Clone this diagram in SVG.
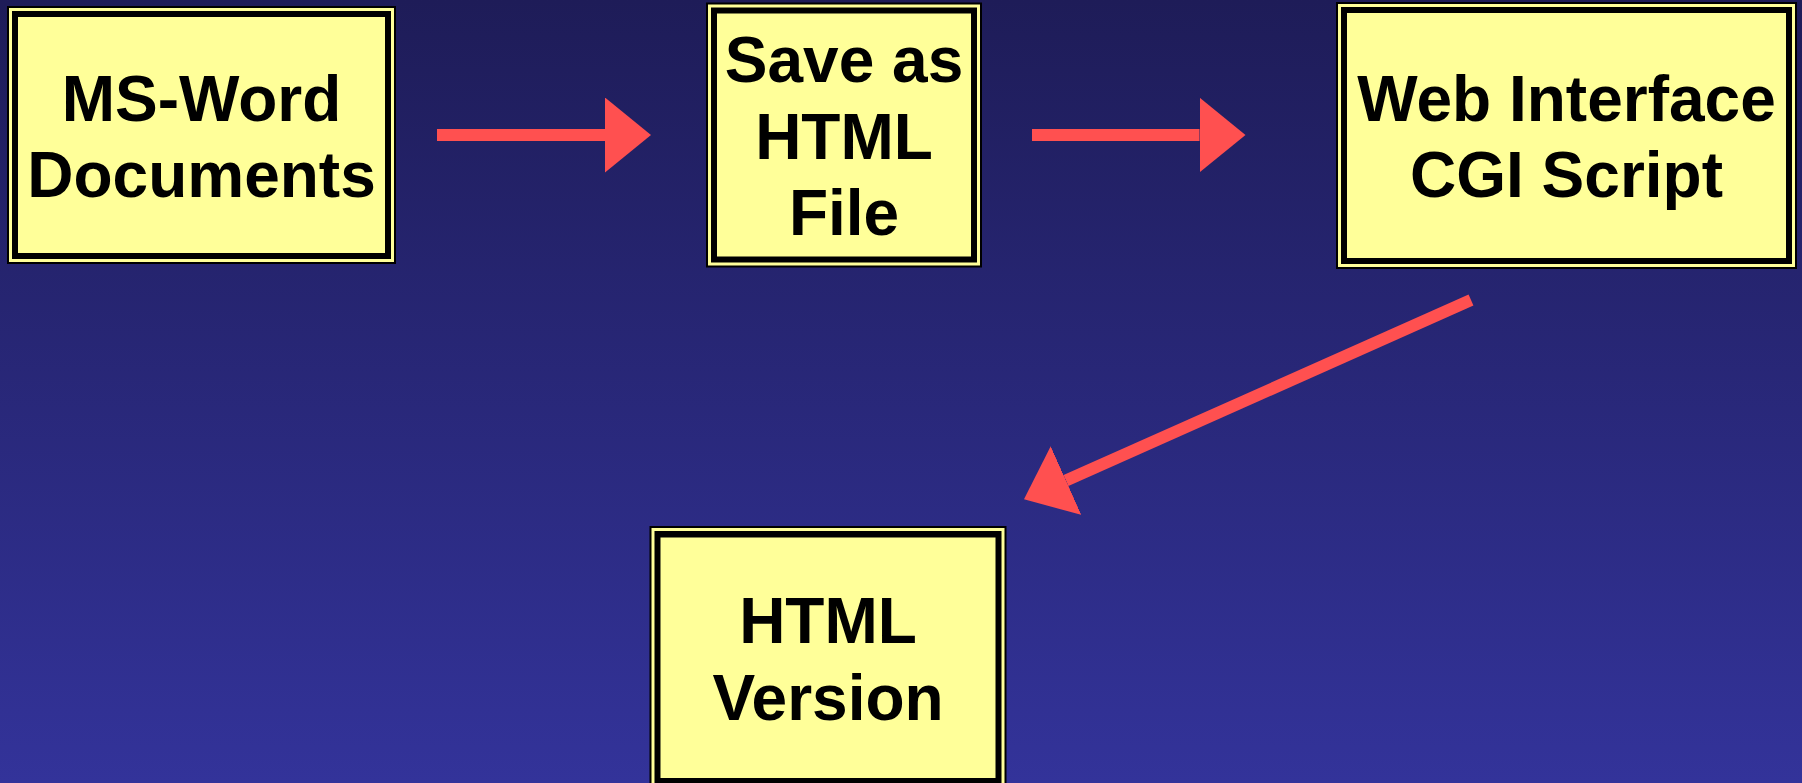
<svg xmlns="http://www.w3.org/2000/svg" width="1802" height="783" viewBox="0 0 1802 783">
  <defs>
    <linearGradient id="bg" x1="0" y1="0" x2="0" y2="1">
      <stop offset="0" stop-color="#1E1C58"/>
      <stop offset="1" stop-color="#33339A"/>
    </linearGradient>
    <marker id="head" viewBox="0 0 46 75" refX="0" refY="37.5" markerWidth="46" markerHeight="75" markerUnits="userSpaceOnUse" orient="auto">
      <path d="M0,0 L46,37.5 L0,75 Z" fill="#FF5050"/>
    </marker>
  </defs>
  <style>
    .o { fill: #000000; }
    .y { fill: #FFFF99; }
    .b { fill: #000000; }
    .f { fill: #FFFF99; }
    .t { font-family: "Liberation Sans", Arial, sans-serif; font-weight: bold; font-size: 64px; fill: #000000; text-anchor: middle; }
    .c { stroke: #FF5050; stroke-width: 12; fill: none; marker-end: url(#head); }
  </style>
  <rect x="0" y="0" width="1802" height="783" fill="url(#bg)"/>

  <g id="connectors">
    <line class="c" x1="437" y1="135" x2="605" y2="135"/>
    <line class="c" x1="1032" y1="135" x2="1199.5" y2="135"/>
    <line class="c" x1="1471" y1="300" x2="1066" y2="480.6"/>
  </g>

  <g id="node-msword">
    <rect class="o" x="7" y="6" width="389" height="258"/>
    <rect class="y" x="9" y="8" width="385" height="254"/>
    <rect class="b" x="12" y="11" width="379" height="248"/>
    <rect class="f" x="18" y="17" width="367" height="236"/>
    <text class="t" x="201.5" y="121">MS-Word</text>
    <text class="t" x="201.5" y="197">Documents</text>
  </g>

  <g id="node-save">
    <rect class="o" x="706" y="2.5" width="276" height="265"/>
    <rect class="y" x="708" y="4.5" width="272" height="261"/>
    <rect class="b" x="711" y="7.5" width="266" height="255"/>
    <rect class="f" x="717" y="13.5" width="254" height="243"/>
    <text class="t" x="844" y="82">Save as</text>
    <text class="t" x="844" y="159">HTML</text>
    <text class="t" x="844" y="235">File</text>
  </g>

  <g id="node-cgi">
    <rect class="o" x="1336" y="2" width="461" height="267"/>
    <rect class="y" x="1338" y="4" width="457" height="263"/>
    <rect class="b" x="1341" y="7" width="451" height="257"/>
    <rect class="f" x="1347" y="13" width="439" height="245"/>
    <text class="t" x="1566.5" y="120.5">Web Interface</text>
    <text class="t" x="1566.5" y="197">CGI Script</text>
  </g>

  <g id="node-version">
    <rect class="o" x="649.5" y="526" width="357" height="264"/>
    <rect class="y" x="651.5" y="528" width="353" height="260"/>
    <rect class="b" x="654.5" y="531" width="347" height="254"/>
    <rect class="f" x="660.5" y="537.5" width="335" height="240.5"/>
    <text class="t" x="828" y="643">HTML</text>
    <text class="t" x="828" y="720">Version</text>
  </g>
</svg>
